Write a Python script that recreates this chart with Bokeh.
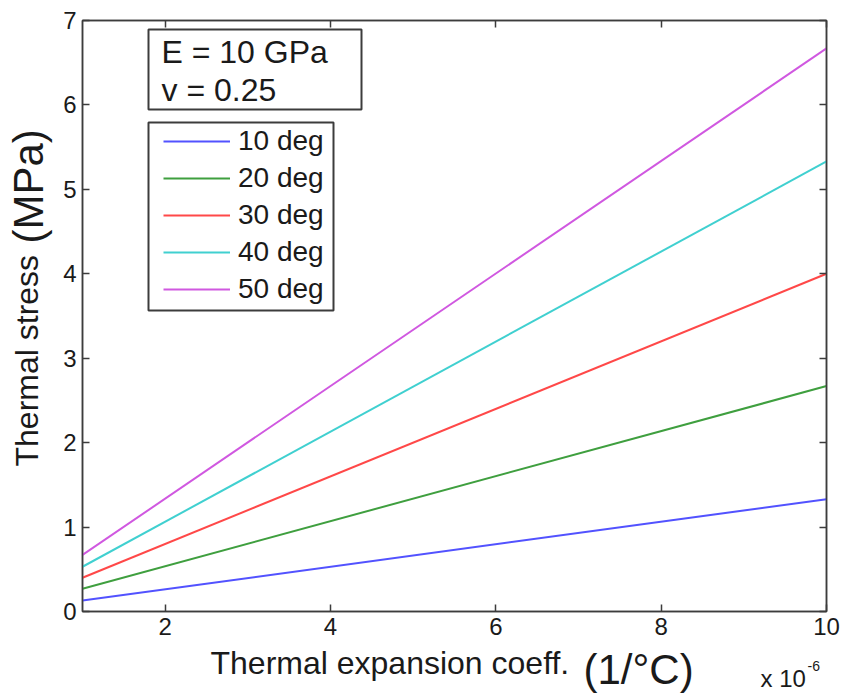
import math
from bokeh.plotting import figure
from bokeh.layouts import row, column
from bokeh.models import (Range1d, LinearAxis, FixedTicker, Legend, LegendItem,
                          BoxAnnotation, CustomJSTickFormatter)
from bokeh.core.properties import value
from bokeh.embed import file_html
from bokeh.resources import INLINE

# ---- data ----
x_alpha = [1, 10]                     # thermal expansion coeff. (x 1e-6 1/°C)
stress_10 = [0.13, 1.33]
stress_20 = [0.27, 2.67]
stress_30 = [0.40, 4.00]
stress_40 = [0.53, 5.33]
stress_50 = [0.67, 6.67]
series_labels = ["10 deg", "20 deg", "30 deg", "40 deg", "50 deg"]
series_colors = ["#5252ff", "#3f9f3f", "#ff4848", "#40d0d0", "#d058e0"]
x_ticks = [2, 4, 6, 8, 10]
y_ticks = [0, 1, 2, 3, 4, 5, 6, 7]
param_lines = ["E = 10 GPa", "v = 0.25"]
x_title = ["Thermal expansion coeff.", "(1/°C)"]
y_title = ["Thermal stress", "(MPa)"]

FONT = "Liberation Sans"
AX = "#3c3c3c"
TXT = "#1a1a1a"
SHIFT = 0.41   # baseline correction (em) for alphabetic text in svg output

W, H = 845, 696
YLAB_W = 56          # strip for the y title
PLOT_BOTTOM = 34     # room under the frame for the tick labels
# frame geometry in page pixels
L, R, T, B = 82, 826, 20, 611
FW, FH = R - L, B - T
XLAB_TOP = B + PLOT_BOTTOM
XLAB_H = H - XLAB_TOP
X0, X1, Y0, Y1 = 1, 10, 0, 7


def px_x(px):
    return X0 + (px - L) * (X1 - X0) / FW


def px_y(py):
    return Y0 + (B - py) * (Y1 - Y0) / FH


p = figure(frame_width=FW, frame_height=FH,
           x_range=Range1d(X0, X1), y_range=Range1d(Y0, Y1),
           output_backend="svg", toolbar_location=None,
           min_border_left=L - YLAB_W, min_border_right=W - R,
           min_border_top=T, min_border_bottom=PLOT_BOTTOM,
           background_fill_color="white", border_fill_color="white")
p.xgrid.visible = False
p.ygrid.visible = False
p.outline_line_color = AX
p.outline_line_width = 1.5


def style_axis(ax, ticks, show_labels):
    ax.ticker = FixedTicker(ticks=ticks)
    ax.minor_tick_line_color = None
    ax.major_tick_in = 7
    ax.major_tick_out = 0
    ax.axis_line_color = AX
    ax.axis_line_width = 1.5
    ax.major_tick_line_color = AX
    ax.major_tick_line_width = 1.5
    ax.major_label_text_font = FONT
    ax.major_label_text_color = TXT
    if show_labels:
        ax.major_label_text_font_size = "24px"
        ax.major_label_standoff = 6
    else:
        ax.formatter = CustomJSTickFormatter(code="return '';")
        ax.major_label_text_font_size = "10px"
        ax.major_label_standoff = 0


style_axis(p.xaxis[0], x_ticks, True)
style_axis(p.yaxis[0], y_ticks, True)
p.xaxis[0].major_label_standoff = 6
top = LinearAxis()
right = LinearAxis()
style_axis(top, x_ticks, False)
style_axis(right, y_ticks, False)
p.add_layout(top, "above")
p.add_layout(right, "right")

series = [stress_10, stress_20, stress_30, stress_40, stress_50]
items = []
for ys, lab, col in zip(series, series_labels, series_colors):
    r = p.line(x_alpha, ys, line_color=col, line_width=2)
    items.append(LegendItem(label=lab, renderers=[r]))

# legend frame
p.add_layout(BoxAnnotation(left=px_x(148), right=px_x(333),
                           top=px_y(122), bottom=px_y(310),
                           fill_alpha=0, line_color=AX, line_alpha=1,
                           line_width=2))
legend = Legend(items=items, location=(163 - L, B - 310 + 5),
                label_text_font=FONT, label_text_font_size="28px",
                label_text_color=TXT, glyph_width=67, glyph_height=30,
                label_height=30, label_standoff=8, spacing=5, padding=6,
                margin=0, border_line_color=None,
                background_fill_alpha=0)
p.add_layout(legend, "center")

# parameter box
p.add_layout(BoxAnnotation(left=px_x(148), right=px_x(361),
                           top=px_y(29), bottom=px_y(109),
                           fill_alpha=0, line_color=AX, line_alpha=1,
                           line_width=2))
PS = 32
p.text(x=[px_x(161), px_x(161)],
       y=[px_y(65 - SHIFT * PS), px_y(103 - SHIFT * PS)], text=param_lines,
       text_font=value(FONT), text_font_size=f"{PS}px", text_color=TXT,
       text_baseline="alphabetic", text_align="left")

# x title strip: frame aligned with the plot frame, coordinates = page pixels
xs = figure(width=W - YLAB_W, height=XLAB_H,
            x_range=Range1d(L, R), y_range=Range1d(H, XLAB_TOP),
            output_backend="svg", toolbar_location=None,
            x_axis_type=None, y_axis_type=None,
            min_border_left=L - YLAB_W, min_border_right=W - R,
            min_border_top=0, min_border_bottom=0, outline_line_color=None,
            background_fill_color="white", border_fill_color="white")
xs.xgrid.visible = False
xs.ygrid.visible = False


def put(fig, x, y, txt, size, angle=0.0):
    fig.text(x=[x], y=[y], text=[txt], angle=angle, text_font=value(FONT),
             text_font_size=f"{size}px", text_color=TXT,
             text_baseline="alphabetic", text_align="left")


put(xs, 210, 676 - SHIFT * 32, x_title[0], 32)
put(xs, 583, 686 - SHIFT * 42, x_title[1], 42)
put(xs, 760, 688 - SHIFT * 24, "x 10", 24)
put(xs, 807, 671 - SHIFT * 14, "-6", 14)

# y title strip (page pixels)
ysf = figure(width=YLAB_W, height=H,
             x_range=Range1d(0, YLAB_W), y_range=Range1d(H, 0),
             output_backend="svg", toolbar_location=None,
             x_axis_type=None, y_axis_type=None,
             min_border=0, outline_line_color=None,
             background_fill_color="white", border_fill_color="white")
ysf.xgrid.visible = False
ysf.ygrid.visible = False
put(ysf, 40 - SHIFT * 32, 466, y_title[0], 32, math.pi / 2)
put(ysf, 45 - SHIFT * 42, 243, y_title[1], 42, math.pi / 2)

layout = row(ysf, column(p, xs, spacing=0), spacing=0)
open("out.html", "w").write(file_html(layout, INLINE))
